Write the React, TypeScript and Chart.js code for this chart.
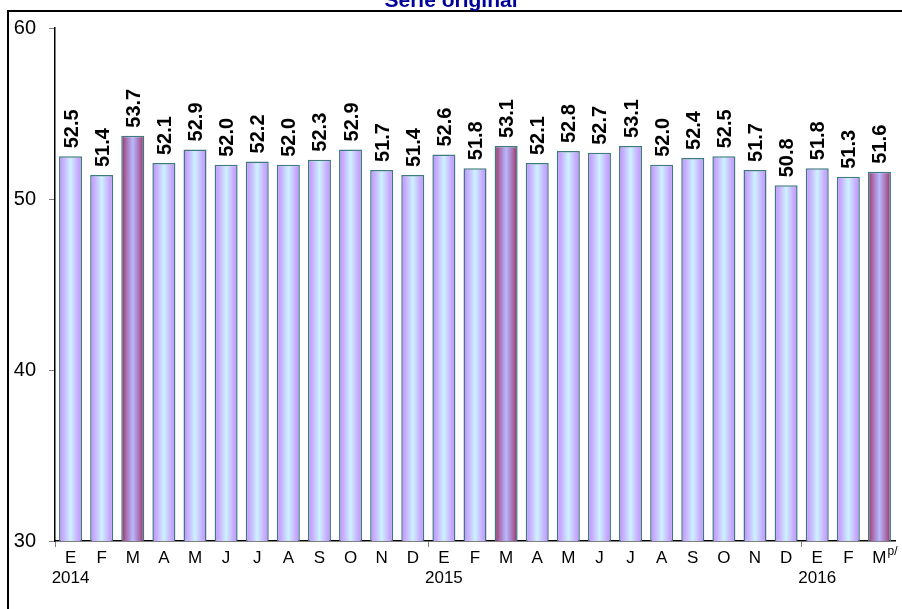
import { useEffect, useRef } from "react";
import { Chart, registerables } from "chart.js";

Chart.register(...registerables);

const titleText = "Serie original";
const months = ["E", "F", "M", "A", "M", "J", "J", "A", "S", "O", "N", "D", "E", "F", "M", "A", "M", "J", "J", "A", "S", "O", "N", "D", "E", "F", "M"];
const yearLabels = ["2014", "2015", "2016"];
const yearStartIndex = [0, 12, 24];
const values = [52.5, 51.4, 53.7, 52.1, 52.9, 52.0, 52.2, 52.0, 52.3, 52.9, 51.7, 51.4, 52.6, 51.8, 53.1, 52.1, 52.8, 52.7, 53.1, 52.0, 52.4, 52.5, 51.7, 50.8, 51.8, 51.3, 51.6];
const highlighted = [2, 14, 26];
const lastSuffix = "p/";
const yMin = 30;
const yMax = 60;
const yStep = 10;

const FONT = '"Liberation Sans", Arial, sans-serif';
const BAR_PCT = 0.74;

export default function App() {
  const ref = useRef<HTMLCanvasElement | null>(null);

  useEffect(() => {
    if (!ref.current) return;
    const labels = months.map((m, i) => {
      const yi = yearStartIndex.indexOf(i);
      return [m, yi >= 0 ? yearLabels[yi] : ""];
    });

    const gradientFor = (ctx: any) => {
      const chart = ctx.chart;
      const xs = chart.scales?.x;
      const hi = highlighted.includes(ctx.dataIndex);
      const edge = hi ? "#8f2f62" : "#c090ff";
      const near = hi ? "#a86aa8" : "#c8b0ff";
      const mid = hi ? "#b8b8ff" : "#cdf2ff";
      if (!xs || !chart.chartArea || ctx.type !== "data") return edge;
      const cx = xs.getPixelForValue(ctx.dataIndex);
      const w = (xs.width / values.length) * BAR_PCT;
      const g = chart.ctx.createLinearGradient(cx - w / 2, 0, cx + w / 2, 0);
      g.addColorStop(0, edge);
      g.addColorStop(0.2, near);
      g.addColorStop(0.5, mid);
      g.addColorStop(0.8, near);
      g.addColorStop(1, edge);
      return g;
    };

    const labelPlugin = {
      id: "valueLabels",
      afterDatasetsDraw(chart: any) {
        const c = chart.ctx;
        const meta = chart.getDatasetMeta(0);
        c.save();
        c.font = `bold 20px ${FONT}`;
        c.fillStyle = "#000";
        c.textAlign = "left";
        c.textBaseline = "alphabetic";
        meta.data.forEach((el: any, i: number) => {
          c.save();
          c.translate(el.x, el.y - 8);
          c.rotate(-Math.PI / 2);
          c.fillText(values[i].toFixed(1), 0, 7);
          c.restore();
        });
        c.restore();
      },
    };

    const suffixPlugin = {
      id: "suffix",
      afterDraw(chart: any) {
        const xs = chart.scales.x;
        const c = chart.ctx;
        const last = months.length - 1;
        c.save();
        c.font = `17px ${FONT}`;
        const mw = c.measureText(months[last]).width;
        const x = xs.getPixelForValue(last) + mw / 2 + 1;
        c.font = `12px ${FONT}`;
        c.fillStyle = "#000";
        c.textAlign = "left";
        c.textBaseline = "top";
        c.fillText(lastSuffix, x, chart.chartArea.bottom + 5);
        c.restore();
      },
    };

    const chart = new Chart(ref.current, {
      type: "bar",
      data: {
        labels,
        datasets: [
          {
            data: values,
            backgroundColor: gradientFor,
            borderColor: "#3f7a7f",
            borderWidth: 1.5,
            borderSkipped: "bottom",
            barPercentage: BAR_PCT,
            categoryPercentage: 1,
          },
        ],
      },
      options: {
        responsive: false,
        animation: false,
        layout: { padding: { left: 0, top: 28, right: 7, bottom: 0 } },
        plugins: {
          legend: { display: false },
          tooltip: { enabled: false },
          title: { display: false },
        },
        scales: {
          x: {
            type: "category",
            offset: true,
            grid: {
              offset: true,
              drawOnChartArea: false,
              tickLength: 6,
              color: (ctx: any) => (yearStartIndex.includes(ctx.index) ? "#808080" : "rgba(0,0,0,0)"),
            },
            border: { color: "#000", width: 1.5 },
            ticks: {
              color: "#000",
              font: { family: FONT, size: 17, lineHeight: 1.2 },
              padding: 1,
              maxRotation: 0,
              autoSkip: false,
            },
            afterFit: (s: any) => {
              s.height = 68;
            },
          },
          y: {
            min: yMin,
            max: yMax,
            grid: { drawOnChartArea: false, tickLength: 6, color: "#808080" },
            border: { color: "#000", width: 1.5 },
            ticks: {
              stepSize: yStep,
              color: "#000",
              font: { family: FONT, size: 20 },
              padding: 13,
            },
            afterFit: (s: any) => {
              s.width = 55;
            },
          },
        },
      },
      plugins: [labelPlugin, suffixPlugin],
    });
    return () => chart.destroy();
  }, []);

  return (
    <div
      style={{
        position: "fixed",
        left: 0,
        top: 0,
        width: 902,
        height: 609,
        overflow: "hidden",
        background: "#fff",
      }}
    >
      <div
        style={{
          position: "absolute",
          left: 7,
          top: 10,
          width: 1000,
          height: 800,
          borderTop: "2px solid #000",
          borderLeft: "2px solid #000",
        }}
      />
      <canvas
        ref={ref}
        width={902}
        height={609}
        style={{ position: "absolute", left: 0, top: 0, width: 902, height: 609 }}
      />
      <div
        style={{
          position: "absolute",
          left: 0,
          top: -11,
          width: 902,
          textAlign: "center",
          font: `bold 21px ${FONT}`,
          lineHeight: "21px",
          color: "#000099",
          whiteSpace: "nowrap",
        }}
      >
        {titleText}
      </div>
    </div>
  );
}
